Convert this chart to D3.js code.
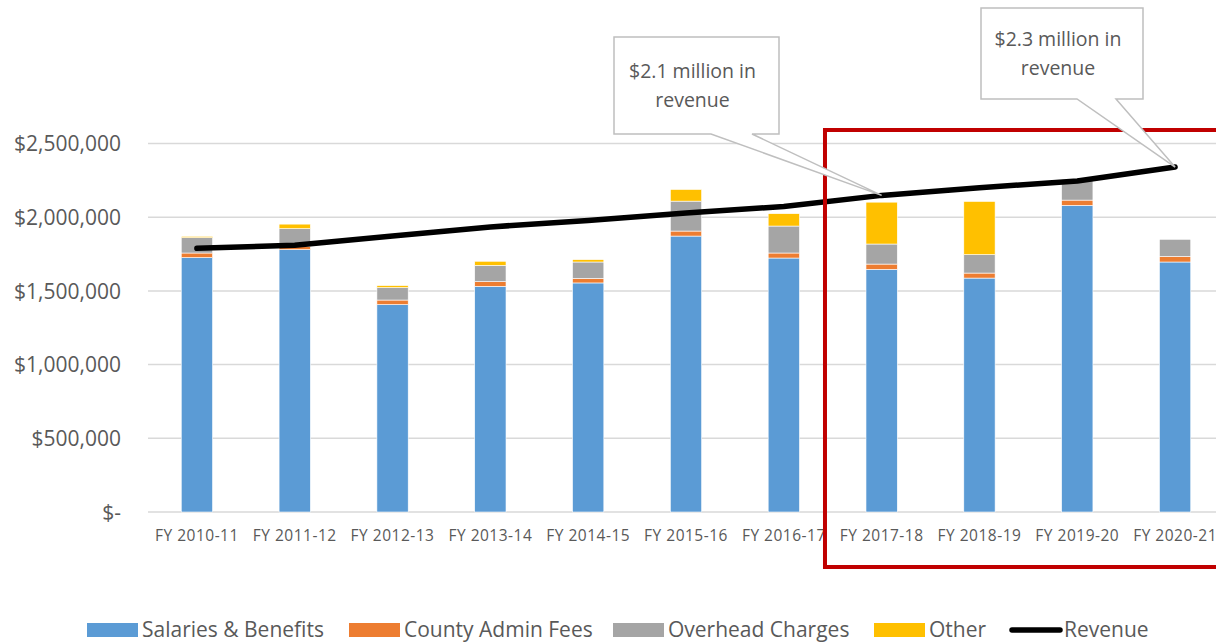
<!DOCTYPE html>
<html>
<head>
<meta charset="utf-8">
<script src="https://cdn.jsdelivr.net/npm/d3@7"></script>
<style>
  body { margin: 0; background: #fff; }
  svg text { font-family: "Open Sans", sans-serif; fill: #595959; }
</style>
</head>
<body>
<svg id="chart"></svg>
<script>
// Fiscal years on the x axis
const years = ['FY 2010-11', 'FY 2011-12', 'FY 2012-13', 'FY 2013-14', 'FY 2014-15',
  'FY 2015-16', 'FY 2016-17', 'FY 2017-18', 'FY 2018-19', 'FY 2019-20', 'FY 2020-21'];

// Expense components (dollars)
const salaries = [1726000, 1780000, 1407000, 1531000, 1554000, 1872000, 1723000, 1646000, 1587000, 2080000, 1696000];
const adminFees = [31000, 20000, 31000, 32000, 31000, 34000, 34000, 36000, 34000, 36000, 38000];
const overhead = [104000, 122000, 84000, 110000, 111000, 203000, 183000, 136000, 125000, 140000, 116000];
const other = [9000, 31000, 14000, 28000, 16000, 79000, 84000, 284000, 361000, 0, 0];

// Revenue line (dollars)
const revenue = [1789000, 1809000, 1872000, 1934000, 1978000, 2028000, 2073000, 2148000, 2200000, 2245000, 2340000];

const yTicks = [0, 500000, 1000000, 1500000, 2000000, 2500000];

const seriesNames = ['Salaries & Benefits', 'County Admin Fees', 'Overhead Charges', 'Other'];
const seriesColors = ['#5B9BD5', '#ED7D31', '#A5A5A5', '#FFC000'];

// Callouts pointing at revenue points
const callouts = [
  {index: 7, lines: ['$2.1 million in', 'revenue']},
  {index: 10, lines: ['$2.3 million in', 'revenue']}
];

const width = 1216, height = 643;

const svg = d3.select('#chart')
    .attr('width', width)
    .attr('height', height);

const xScale = d3.scaleBand()
    .domain(years)
    .range([148, 1224])
    .paddingInner(0.68)
    .paddingOuter(0.34);

const yScale = d3.scaleLinear()
    .domain([0, 2500000])
    .range([512, 143.5]);

// Gridlines
svg.append('g')
  .selectAll('line')
  .data(yTicks)
  .join('line')
    .attr('x1', 148)
    .attr('x2', width)
    .attr('y1', d => yScale(d))
    .attr('y2', d => yScale(d))
    .attr('stroke', '#d9d9d9')
    .attr('stroke-width', 1.5);

// Y axis labels
const fmt = d => d === 0 ? '$-' : '$' + d3.format(',')(d);
const yAxis = d3.axisLeft(yScale)
    .tickValues(yTicks)
    .tickFormat(fmt)
    .tickSize(0)
    .tickPadding(0);

const yAxisG = svg.append('g')
    .attr('transform', 'translate(121,0)')
    .call(yAxis);
yAxisG.select('.domain').remove();
yAxisG.selectAll('text')
    .attr('font-size', 21)
    .attr('font-family', '"Open Sans", sans-serif')
    .attr('dy', '0.35em')
    .attr('fill', '#595959');

// X axis labels
const xAxis = d3.axisBottom(xScale)
    .tickSize(0)
    .tickPadding(0);
const xAxisG = svg.append('g')
    .attr('transform', 'translate(0,530)')
    .call(xAxis);
xAxisG.select('.domain').remove();
xAxisG.selectAll('text')
    .attr('font-size', 15.5)
    .attr('font-family', '"Open Sans", sans-serif')
    .attr('letter-spacing', 0.5)
    .attr('dy', '0.71em')
    .attr('fill', '#595959');

// Stacked bars
const table = years.map((y, i) => ({
  year: y,
  'Salaries & Benefits': salaries[i],
  'County Admin Fees': adminFees[i],
  'Overhead Charges': overhead[i],
  'Other': other[i]
}));
const stacked = d3.stack().keys(seriesNames)(table);

svg.append('g')
  .selectAll('g')
  .data(stacked)
  .join('g')
    .attr('fill', (d, i) => seriesColors[i])
  .selectAll('rect')
  .data(d => d)
  .join('rect')
    .attr('x', d => xScale(d.data.year))
    .attr('width', xScale.bandwidth())
    .attr('y', d => yScale(d[1]))
    .attr('height', d => Math.max(0, yScale(d[0]) - yScale(d[1])))
    .attr('stroke', '#fff')
    .attr('stroke-width', 0.6);

// Revenue line
const line = d3.line()
    .x((d, i) => xScale(years[i]) + xScale.bandwidth() / 2)
    .y(d => yScale(d));

svg.append('path')
    .datum(revenue)
    .attr('d', line)
    .attr('fill', 'none')
    .attr('stroke', '#000')
    .attr('stroke-width', 5.5)
    .attr('stroke-linecap', 'round')
    .attr('stroke-linejoin', 'round');

// Red highlight box
svg.append('rect')
    .attr('x', xScale('FY 2017-18') - 41)
    .attr('y', 130)
    .attr('width', 420)
    .attr('height', 437)
    .attr('fill', 'none')
    .attr('stroke', '#C00000')
    .attr('stroke-width', 4);

// Callouts
const boxes = [
  {x: 614, y: 37, w: 165, h: 97, p1: 711, p2: 752},
  {x: 981, y: 8, w: 162, h: 91, p1: 1077, p2: 1116}
];
callouts.forEach((c, k) => {
  const b = boxes[k];
  const tx = xScale(years[c.index]) + xScale.bandwidth() / 2;
  const ty = yScale(revenue[c.index]);
  const g = svg.append('g');
  g.append('path')
      .attr('d', `M${b.x},${b.y}H${b.x + b.w}V${b.y + b.h}H${b.p2}L${tx},${ty}L${b.p1},${b.y + b.h}H${b.x}Z`)
      .attr('fill', '#fff')
      .attr('stroke', '#bfbfbf')
      .attr('stroke-width', 1.5);
  g.selectAll('text')
    .data(c.lines)
    .join('text')
      .attr('x', b.x + b.w / 2 - 4)
      .attr('y', (d, i) => b.y + b.h / 2 - 14 + i * 29)
      .attr('text-anchor', 'middle')
      .attr('dy', '0.35em')
      .attr('font-size', 19.5)
      .text(d => d);
});

// Legend
const legendItems = [
  {name: 'Salaries & Benefits', color: seriesColors[0], x: 87},
  {name: 'County Admin Fees', color: seriesColors[1], x: 349},
  {name: 'Overhead Charges', color: seriesColors[2], x: 613},
  {name: 'Other', color: seriesColors[3], x: 874},
  {name: 'Revenue', color: '#000', x: 1009, line: true}
];
const legend = svg.append('g');
legendItems.forEach(it => {
  if (it.line) {
    legend.append('line')
        .attr('x1', it.x + 3).attr('x2', it.x + 51)
        .attr('y1', 630).attr('y2', 630)
        .attr('stroke', it.color)
        .attr('stroke-width', 5.5)
        .attr('stroke-linecap', 'round');
  } else {
    legend.append('rect')
        .attr('x', it.x).attr('y', 623)
        .attr('width', 51).attr('height', 14)
        .attr('fill', it.color);
  }
  legend.append('text')
      .attr('x', it.x + 55)
      .attr('y', 630)
      .attr('dy', '0.35em')
      .attr('font-size', 21)
      .text(it.name);
});
</script>
</body>
</html>
